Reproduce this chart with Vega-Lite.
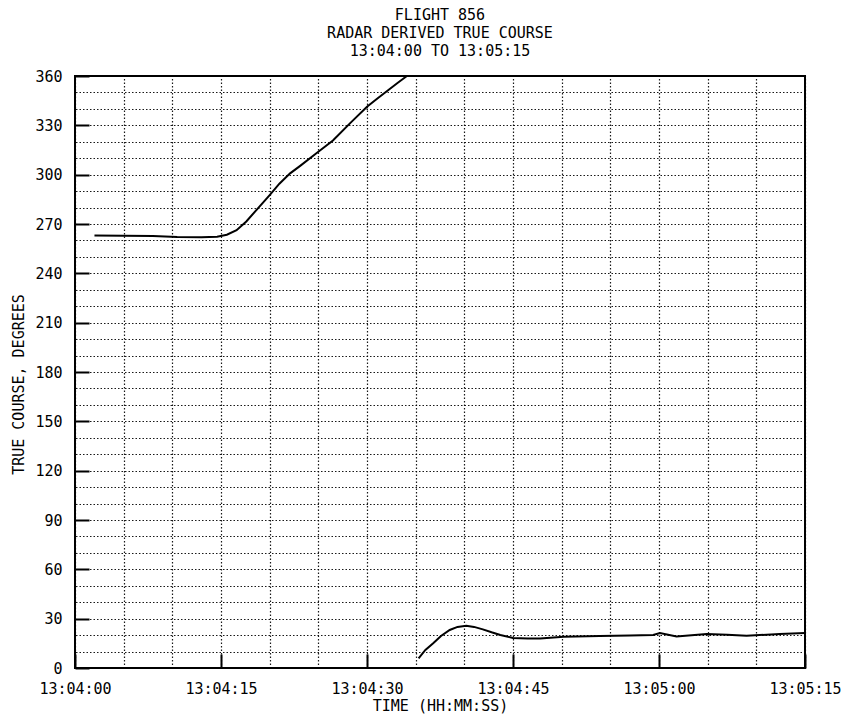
{
  "$schema": "https://vega.github.io/schema/vega-lite/v6.json",
  "autosize": {"type": "none"},
  "padding": {"left": 75, "top": 76, "right": 48, "bottom": 50},
  "width": 730,
  "height": 592,
  "background": "white",
  "title": {
    "text": ["FLIGHT 856", "RADAR DERIVED TRUE COURSE", "13:04:00 TO 13:05:15"],
    "font": "DejaVu Sans Mono",
    "fontSize": 15,
    "fontWeight": "normal",
    "color": "black",
    "lineHeight": 18,
    "anchor": "middle",
    "offset": 10
  },
  "config": {
    "view": {"stroke": "black", "strokeWidth": 2},
    "axis": {
      "labelFont": "DejaVu Sans Mono",
      "labelFontSize": 15,
      "labelColor": "black",
      "titleFont": "DejaVu Sans Mono",
      "titleFontSize": 15,
      "titleFontWeight": "normal",
      "titleColor": "black"
    }
  },
  "data": {
    "values": [
      {"t": 2.0, "course": 263.0, "segment": "A"},
      {"t": 5.0, "course": 262.8, "segment": "A"},
      {"t": 8.0, "course": 262.7, "segment": "A"},
      {"t": 10.5, "course": 262.1, "segment": "A"},
      {"t": 13.0, "course": 262.0, "segment": "A"},
      {"t": 14.6, "course": 262.2, "segment": "A"},
      {"t": 15.6, "course": 263.5, "segment": "A"},
      {"t": 16.6, "course": 266.2, "segment": "A"},
      {"t": 17.6, "course": 271.5, "segment": "A"},
      {"t": 18.7, "course": 278.9, "segment": "A"},
      {"t": 20.0, "course": 287.6, "segment": "A"},
      {"t": 21.0, "course": 294.5, "segment": "A"},
      {"t": 22.1, "course": 300.8, "segment": "A"},
      {"t": 23.1, "course": 305.2, "segment": "A"},
      {"t": 24.8, "course": 313.0, "segment": "A"},
      {"t": 26.5, "course": 320.8, "segment": "A"},
      {"t": 28.3, "course": 331.5, "segment": "A"},
      {"t": 30.0, "course": 341.3, "segment": "A"},
      {"t": 31.1, "course": 346.5, "segment": "A"},
      {"t": 32.2, "course": 351.5, "segment": "A"},
      {"t": 33.2, "course": 356.0, "segment": "A"},
      {"t": 34.1, "course": 360.0, "segment": "A"},
      {"t": 35.3, "course": 5.9, "segment": "B"},
      {"t": 36.0, "course": 11.0, "segment": "B"},
      {"t": 36.8, "course": 15.0, "segment": "B"},
      {"t": 37.6, "course": 19.5, "segment": "B"},
      {"t": 38.5, "course": 23.1, "segment": "B"},
      {"t": 39.3, "course": 25.0, "segment": "B"},
      {"t": 40.2, "course": 25.7, "segment": "B"},
      {"t": 41.0, "course": 25.0, "segment": "B"},
      {"t": 41.9, "course": 23.5, "segment": "B"},
      {"t": 42.8, "course": 21.7, "segment": "B"},
      {"t": 43.7, "course": 20.1, "segment": "B"},
      {"t": 45.0, "course": 18.2, "segment": "B"},
      {"t": 46.5, "course": 17.9, "segment": "B"},
      {"t": 47.8, "course": 18.0, "segment": "B"},
      {"t": 50.2, "course": 19.0, "segment": "B"},
      {"t": 53.9, "course": 19.5, "segment": "B"},
      {"t": 57.0, "course": 19.8, "segment": "B"},
      {"t": 59.4, "course": 20.1, "segment": "B"},
      {"t": 60.1, "course": 21.3, "segment": "B"},
      {"t": 61.8, "course": 19.2, "segment": "B"},
      {"t": 64.9, "course": 20.6, "segment": "B"},
      {"t": 67.0, "course": 20.2, "segment": "B"},
      {"t": 69.0, "course": 19.6, "segment": "B"},
      {"t": 72.4, "course": 20.7, "segment": "B"},
      {"t": 75.0, "course": 21.3, "segment": "B"}
    ]
  },
  "resolve": {"axis": {"x": "independent", "y": "independent"}},
  "layer": [
    {
      "mark": {"type": "line", "opacity": 0},
      "encoding": {
        "x": {
          "field": "t", "type": "quantitative",
          "scale": {"domain": [0, 75], "nice": false, "zero": false},
          "axis": {
            "orient": "top", "values": [0,5,10,15,20,25,30,35,40,45,50,55,60,65,70,75],
            "grid": true, "gridColor": "black", "gridDash": [1.5, 2], "gridWidth": 1.2, "gridOpacity": 0.9,
            "labels": false, "ticks": false, "domain": false, "title": null
          }
        },
        "y": {
          "field": "course", "type": "quantitative",
          "scale": {"domain": [0, 360], "nice": false, "zero": true},
          "axis": {
            "orient": "right", "values": [0,10,20,30,40,50,60,70,80,90,100,110,120,130,140,150,160,170,180,190,200,210,220,230,240,250,260,270,280,290,300,310,320,330,340,350,360],
            "grid": true, "gridColor": "black", "gridDash": [1.5, 2], "gridWidth": 1.2, "gridOpacity": 0.9,
            "labels": false, "ticks": false, "domain": false, "title": null
          }
        },
        "detail": {"field": "segment"}
      }
    },
    {
      "mark": {"type": "line", "color": "black", "strokeWidth": 2},
      "encoding": {
        "x": {
          "field": "t", "type": "quantitative",
          "scale": {"domain": [0, 75], "nice": false, "zero": false},
          "axis": {
            "orient": "bottom", "values": [0, 15, 30, 45, 60, 75],
            "labelExpr": "'13:0' + (4 + floor(datum.value / 60)) + ':' + ((datum.value % 60) < 10 ? '0' : '') + (datum.value % 60)",
            "grid": false, "domain": false,
            "ticks": true, "tickSize": -14, "tickWidth": 2, "tickColor": "black",
            "labelPadding": 27, "labelFlush": false, "labelOverlap": false,
            "title": "TIME (HH:MM:SS)", "titleX": 365, "titleY": 37, "titleBaseline": "middle"
          }
        },
        "y": {
          "field": "course", "type": "quantitative",
          "scale": {"domain": [0, 360], "nice": false, "zero": true},
          "axis": {
            "orient": "left", "values": [0, 30, 60, 90, 120, 150, 180, 210, 240, 270, 300, 330, 360],
            "grid": false, "domain": false,
            "ticks": true, "tickSize": -14, "tickWidth": 2, "tickColor": "black",
            "labelPadding": 27, "labelFlush": false, "labelOverlap": false,
            "title": "TRUE COURSE, DEGREES", "titleX": -57, "titleY": 308, "titleBaseline": "middle", "titleAngle": -90
          }
        },
        "detail": {"field": "segment"}
      }
    }
  ]
}
